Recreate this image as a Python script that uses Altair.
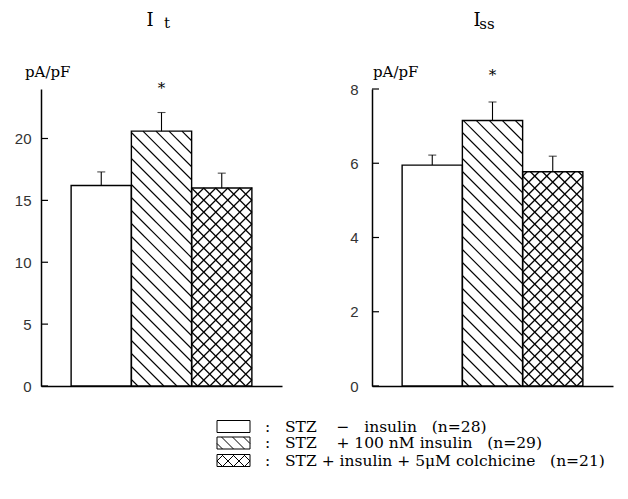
import altair as alt
import pandas as pd

# ---------------- data ----------------
groups = ["STZ \u2212 insulin", "STZ + 100 nM insulin", "STZ + insulin + 5\u03bcM colchicine"]
n_cells = [28, 29, 21]
patterns = ["none", "diag", "cross"]

it_mean = [16.2, 20.6, 16.0]
it_sem = [1.1, 1.5, 1.2]
iss_mean = [5.95, 7.15, 5.77]
iss_sem = [0.27, 0.50, 0.42]

it_ticks = [0, 5, 10, 15, 20]
iss_ticks = [0, 2, 4, 6, 8]

# ---------------- style / layout ----------------
W, H = 241, 297
XMAX = 4.0
SX = W / XMAX
SERIF = "DejaVu Serif"
SANS = "Liberation Sans"
NB = "\u00a0"

legend_labels = [
    f":{NB*3}STZ{NB*4}\u2212{NB*3}insulin{NB*3}(n={n_cells[0]})",
    f":{NB*3}STZ{NB*4}+{NB}100{NB}nM{NB}insulin{NB*3}(n={n_cells[1]})",
    f":{NB*3}STZ{NB}+{NB}insulin{NB}+{NB}5\u03bcM{NB}colchicine{NB*3}(n={n_cells[2]})",
]
# legend placement relative to the left plot area (pixels)
LEG_BOX_X, LEG_BOX_W, LEG_BOX_H = 176, 33, 12
LEG_ROW_Y = [337.5, 354, 371.5]
LEG_TEXT_X = 224


def hatch(w, h, spacing, kind):
    """Hatch segments (u0, v0, u1, v1) in pixels, y pointing up, clipped to [0,w]x[0,h]."""
    segs = []
    if kind in ("diag", "cross"):
        c = spacing / 2
        while c < w + h:
            ua, ub = max(0.0, c - h), min(w, c)
            if ub > ua:
                segs.append((ua, c - ua, ub, c - ub))
            c += spacing
    if kind == "cross":
        c = -w + spacing / 2
        while c < h:
            ua, ub = max(0.0, -c), min(w, h - c)
            if ub > ua:
                segs.append((ua, ua + c, ub, ub + c))
            c += spacing
    return segs


def make_panel(means, sems, ticks, ymax, main, sub, title_x, sub_x, sub_dy,
               star_y, label_pad, unit_x, legend):
    sy = H / ymax
    xs = alt.Scale(domain=[0, XMAX], nice=False, zero=False)
    ys = alt.Scale(domain=[0, ymax], nice=False, zero=True)
    xax = alt.Axis(labels=False, ticks=False, grid=False, title=None,
                   domainColor="black", domainWidth=1.5)
    yax = alt.Axis(values=ticks, ticks=False, tickSize=0, grid=False, title=None,
                   labelPadding=label_pad, labelFont=SANS, labelFontSize=15,
                   labelColor="#333333", domainColor="black", domainWidth=1.5)

    def X(f):
        return alt.X(f, scale=xs, axis=xax)

    def Y(f):
        return alt.Y(f, scale=ys, axis=yax)

    bars = pd.DataFrame({
        "grp": groups,
        "x0": [i + 0.5 for i in range(3)],
        "x1": [i + 1.5 for i in range(3)],
        "xc": [i + 1.0 for i in range(3)],
        "mean": means,
        "top": [m + s for m, s in zip(means, sems)],
    })

    rows = []
    for i, (m, kind) in enumerate(zip(means, patterns)):
        sp = 13.0 if kind == "diag" else 12.0
        for u0, v0, u1, v1 in hatch(SX, m * sy, sp, kind):
            rows.append({"kind": kind, "x": i + 0.5 + u0 / SX, "y": v0 / sy,
                         "x2": i + 0.5 + u1 / SX, "y2": v1 / sy})
    hatch_df = pd.DataFrame(rows)

    base = alt.Chart(bars)
    fill = base.mark_rect(fill="white", stroke=None).encode(
        x=X("x0:Q"), x2="x1:Q", y=Y("mean:Q"), y2=alt.datum(0),
    )
    hatch_layer = alt.Chart(hatch_df).mark_rule(color="black").encode(
        x=X("x:Q"), y=Y("y:Q"), x2="x2:Q", y2="y2:Q",
        strokeWidth=alt.StrokeWidth("kind:N", scale=alt.Scale(domain=["diag", "cross"],
                                                                range=[1.1, 1.3]),
                                    legend=None),
    )
    outline = base.mark_rect(fill=None, stroke="black", strokeWidth=1.4).encode(
        x=X("x0:Q"), x2="x1:Q", y=Y("mean:Q"), y2=alt.datum(0),
    )
    err = base.mark_rule(color="black", strokeWidth=1.1).encode(
        x=X("xc:Q"), y=Y("mean:Q"), y2="top:Q",
    )
    cap = base.mark_tick(orient="horizontal", size=8, thickness=1.1, color="black").encode(
        x=X("xc:Q"), y=Y("top:Q"),
    )
    tick_df = pd.DataFrame({"v": ticks})
    yticks = alt.Chart(tick_df).mark_rule(color="black", strokeWidth=1.2).encode(
        y=Y("v:Q"), x=alt.value(0), x2=alt.value(7),
    )
    star = alt.Chart(pd.DataFrame({"xc": [2.0], "s": ["*"]})).mark_text(
        font=SERIF, fontSize=15, baseline="middle", color="black"
    ).encode(x=X("xc:Q"), y=alt.value(star_y), text="s:N")

    txt = pd.DataFrame({"t": [main, sub, "pA/pF"]})
    t_main = alt.Chart(txt.iloc[[0]]).mark_text(
        font=SERIF, fontSize=18, align="center", baseline="alphabetic", color="black"
    ).encode(x=alt.value(title_x), y=alt.value(-63), text="t:N")
    t_sub = alt.Chart(txt.iloc[[1]]).mark_text(
        font=SERIF, fontSize=15, align="center", baseline="alphabetic", color="black"
    ).encode(x=alt.value(sub_x), y=alt.value(-63 + sub_dy), text="t:N")
    t_unit = alt.Chart(txt.iloc[[2]]).mark_text(
        font=SERIF, fontSize=15, align="left", baseline="middle", color="black"
    ).encode(x=alt.value(unit_x), y=alt.value(-17), text="t:N")

    layers = [fill, hatch_layer, outline, err, cap, yticks, star, t_main, t_sub, t_unit]

    if legend:
        # legend swatches and labels, positioned in pixels and mapped to data units
        def dx(px):
            return px / SX

        def dy(py):
            return ymax - py / sy

        box_rows, line_rows, lab_rows = [], [], []
        for i, (kind, lab) in enumerate(zip(patterns, legend_labels)):
            top = LEG_ROW_Y[i] - LEG_BOX_H / 2
            bot = top + LEG_BOX_H
            box_rows.append({"bx0": dx(LEG_BOX_X), "bx1": dx(LEG_BOX_X + LEG_BOX_W),
                             "by0": dy(bot), "by1": dy(top)})
            for u0, v0, u1, v1 in hatch(LEG_BOX_W, LEG_BOX_H, 11.0, kind):
                line_rows.append({"lx": dx(LEG_BOX_X + u0), "ly": dy(bot - v0),
                                  "lx2": dx(LEG_BOX_X + u1), "ly2": dy(bot - v1)})
            lab_rows.append({"tx": dx(LEG_TEXT_X), "ty": dy(LEG_ROW_Y[i]), "lab": lab})

        leg_box = alt.Chart(pd.DataFrame(box_rows)).mark_rect(
            fill="white", stroke="black", strokeWidth=1
        ).encode(x=X("bx0:Q"), x2="bx1:Q", y=Y("by0:Q"), y2="by1:Q")
        leg_lines = alt.Chart(pd.DataFrame(line_rows)).mark_rule(
            color="black", strokeWidth=1
        ).encode(x=X("lx:Q"), x2="lx2:Q", y=Y("ly:Q"), y2="ly2:Q")
        leg_text = alt.Chart(pd.DataFrame(lab_rows)).mark_text(
            font=SERIF, fontSize=15.5, align="left", baseline="middle", color="black"
        ).encode(x=X("tx:Q"), y=Y("ty:Q"), text="lab:N")
        layers += [leg_box, leg_lines, leg_text]

    return alt.layer(*layers).properties(width=W, height=H)


left = make_panel(it_mean, it_sem, it_ticks, 24, "I", "t", 109, 126, 2,
                  -1, 10, -16, True)
right = make_panel(iss_mean, iss_sem, iss_ticks, 8, "I", "ss", 105, 115, 2.5,
                   -14, 14, 1, False)

chart = alt.hconcat(left, right, spacing=90, bounds="flush").properties(
    padding={"top": 4, "left": 6, "right": 5, "bottom": 5},
    autosize=alt.AutoSizeParams(type="pad"),
    background="white",
).configure_view(stroke=None)

chart.save("out.html", embed_options={"renderer": "svg", "actions": False})
